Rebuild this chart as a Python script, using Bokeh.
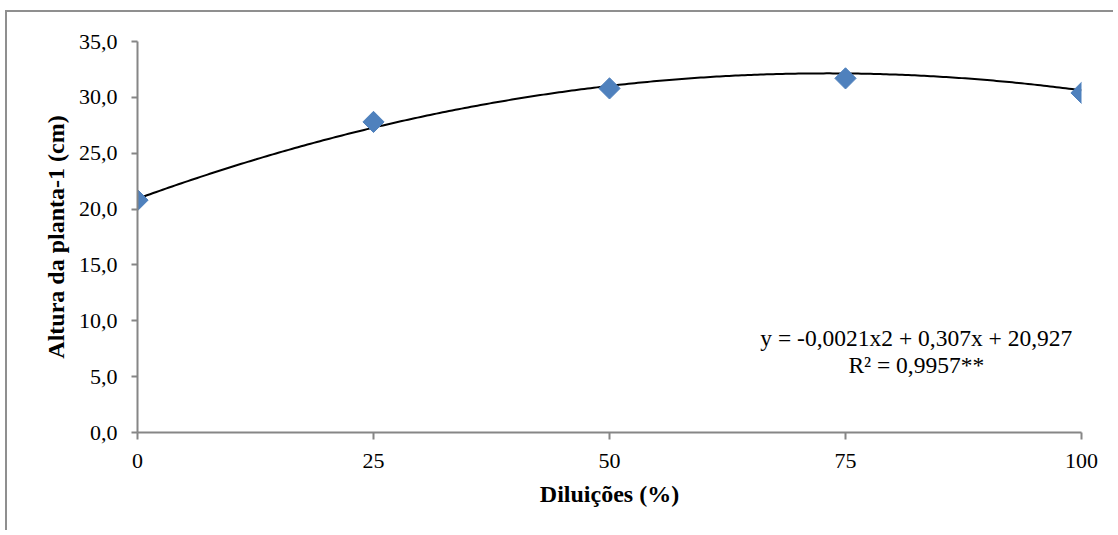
import numpy as np
from bokeh.plotting import figure
from bokeh.models import Range1d, FixedTicker, Label, CustomJSTickFormatter
from bokeh.embed import file_html
from bokeh.resources import INLINE

# Data
dilutions = [0, 25, 50, 75, 100]
height_cm = [20.8, 27.8, 30.8, 31.7, 30.4]
x_ticks = [0, 25, 50, 75, 100]
y_ticks = [0, 5, 10, 15, 20, 25, 30, 35]
# Trendline coefficients as printed in the chart: y = a x^2 + b x + c
coef_a, coef_b, coef_c = -0.0021, 0.307, 20.927
equation_text = "y = -0,0021x2 + 0,307x + 20,927"
r2_text = "R² = 0,9957**"
x_label = "Diluições (%)"
y_label = "Altura da planta-1 (cm)"

FONT = "Liberation Serif"
AXIS_COLOR = "#868686"

p = figure(width=1108, height=520, output_backend="svg", toolbar_location=None,
           x_range=Range1d(0, 100), y_range=Range1d(0, 35),
           min_border_left=130, min_border_right=34, min_border_top=29, min_border_bottom=100)
p.styles = {"border-top": "2px solid #8f8f8f", "border-left": "2px solid #8f8f8f",
            "margin-left": "5px", "margin-top": "10px"}
p.outline_line_color = None
p.grid.visible = False
p.background_fill_color = "white"
p.border_fill_color = "white"

# Trendline
xs = np.linspace(0, 100, 301)
ys = coef_a * xs ** 2 + coef_b * xs + coef_c
p.line(xs, ys, line_color="black", line_width=2)

# Points (diamonds)
p.scatter(dilutions, height_cm, marker="square", angle=np.pi / 4, size=15,
          fill_color="#4F81BD", line_color="#4F81BD")

for ax in (p.xaxis[0], p.yaxis[0]):
    ax.axis_line_color = AXIS_COLOR
    ax.axis_line_width = 2
    ax.major_tick_line_color = AXIS_COLOR
    ax.major_tick_line_width = 2
    ax.major_tick_in = 0
    ax.minor_tick_line_color = None
    ax.major_label_text_font = FONT
    ax.major_label_text_font_size = "22px"
    ax.major_label_text_color = "black"
    ax.axis_label_text_font = FONT
    ax.axis_label_text_font_size = "24px"
    ax.axis_label_text_font_style = "bold"
    ax.axis_label_text_color = "black"

p.xaxis.ticker = FixedTicker(ticks=x_ticks)
p.yaxis.ticker = FixedTicker(ticks=y_ticks)
p.xaxis.major_tick_out = 7
p.yaxis.major_tick_out = 6
p.xaxis.major_label_standoff = 14
p.yaxis.major_label_standoff = 14
p.yaxis.formatter = CustomJSTickFormatter(code="return tick.toFixed(1).replace('.', ',');")
p.xaxis.axis_label = x_label
p.yaxis.axis_label = y_label
p.xaxis.axis_label_standoff = 10
p.yaxis.axis_label_standoff = 7

lbl1 = Label(x=82.5, y=8.45, text=equation_text, text_font=FONT, text_font_size="23.5px",
             text_align="center", text_baseline="middle", text_color="black")
lbl2 = Label(x=82.5, y=6.0, text=r2_text, text_font=FONT, text_font_size="23.5px",
             text_align="center", text_baseline="middle", text_color="black")
p.add_layout(lbl1)
p.add_layout(lbl2)

open("out.html", "w").write(file_html(p, INLINE))
